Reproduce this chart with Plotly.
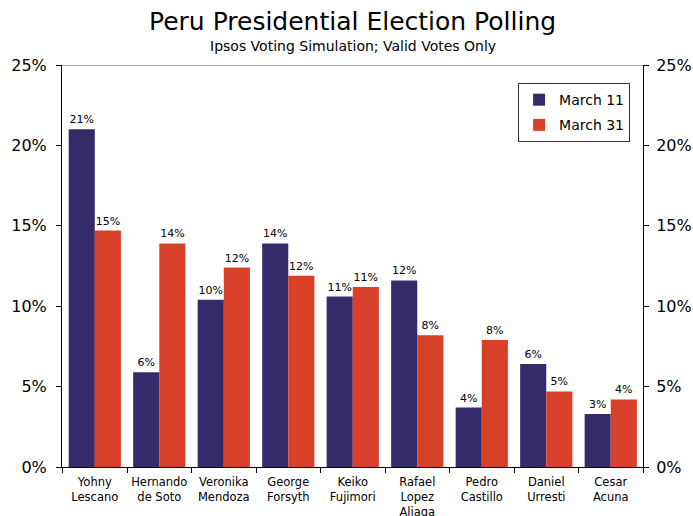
import plotly.graph_objects as go

candidates = ["Yohny<br>Lescano", "Hernando<br>de Soto", "Veronika<br>Mendoza", "George<br>Forsyth",
              "Keiko<br>Fujimori", "Rafael<br>Lopez<br>Aliaga", "Pedro<br>Castillo", "Daniel<br>Urresti",
              "Cesar<br>Acuna"]
march11 = [21.0, 5.9, 10.4, 13.9, 10.6, 11.6, 3.7, 6.4, 3.3]
march31 = [14.7, 13.9, 12.4, 11.9, 11.2, 8.2, 7.9, 4.7, 4.2]
series_names = ["March 11", "March 31"]

NAVY = "#352B6A"
RED = "#D9402A"
FONT = "DejaVu Sans, Verdana, sans-serif"

fig = go.Figure()
for name, vals, col, grp in [(series_names[0], march11, NAVY, "a"), (series_names[1], march31, RED, "b")]:
    fig.add_trace(go.Bar(
        x=candidates, y=vals, name=name, marker=dict(color=col, line=dict(width=0)),
        text=[f"{round(v)}%" for v in vals], textposition="outside",
        textfont=dict(size=11, color="black", family=FONT), cliponaxis=False,
        legendgroup=grp,
    ))
# dummy trace for right axis
fig.add_trace(go.Scatter(x=[candidates[0]], y=[0], yaxis="y2", mode="markers",
                         marker=dict(opacity=0), showlegend=False, hoverinfo="skip"))

fig.update_layout(
    width=693, height=516,
    margin=dict(l=62, r=50, t=65, b=49, autoexpand=False),
    paper_bgcolor="white", plot_bgcolor="white",
    barmode="group", bargap=0.19, bargroupgap=0,
    font=dict(family=FONT, color="black"),
    showlegend=True,
    legend=dict(x=0.785, y=0.955, xanchor="left", yanchor="top",
                bordercolor="#333333", borderwidth=1, bgcolor="white",
                font=dict(size=14, family=FONT), tracegroupgap=4,
                itemwidth=30),
    xaxis=dict(showline=True, linecolor="black", linewidth=1, ticks="outside",
               tickson="boundaries", ticklen=5, tickcolor="black", automargin=False,
               ticklabelstandoff=4, tickangle=0,
               tickfont=dict(size=11.5, family=FONT), showgrid=False),
    yaxis=dict(range=[0, 25], dtick=5, ticksuffix="%", showline=True, linecolor="black",
               ticks="outside", ticklen=5, tickcolor="black", showgrid=False, zeroline=False,
               automargin=False, ticklabelstandoff=6,
               tickfont=dict(size=16, family=FONT)),
    yaxis2=dict(range=[0, 25], dtick=5, ticksuffix="%", overlaying="y", side="right",
                showline=True, linecolor="black", ticks="outside", ticklen=5,
                tickcolor="black", showgrid=False, zeroline=False, automargin=False,
                ticklabelstandoff=4,
                tickfont=dict(size=16, family=FONT)),
    shapes=[dict(type="line", xref="paper", yref="y", x0=0, x1=1, y0=25, y1=25,
                 line=dict(color="#555555", width=1))],
    annotations=[
        dict(text="Peru Presidential Election Polling", xref="paper", yref="paper",
             x=0.5, y=1, yshift=44, showarrow=False, font=dict(size=25, family=FONT),
             xanchor="center", yanchor="middle"),
        dict(text="Ipsos Voting Simulation; Valid Votes Only", xref="paper", yref="paper",
             x=0.5, y=1, yshift=19, showarrow=False, font=dict(size=14, family=FONT),
             xanchor="center", yanchor="middle"),
    ],
)

fig.write_html("out.html")
